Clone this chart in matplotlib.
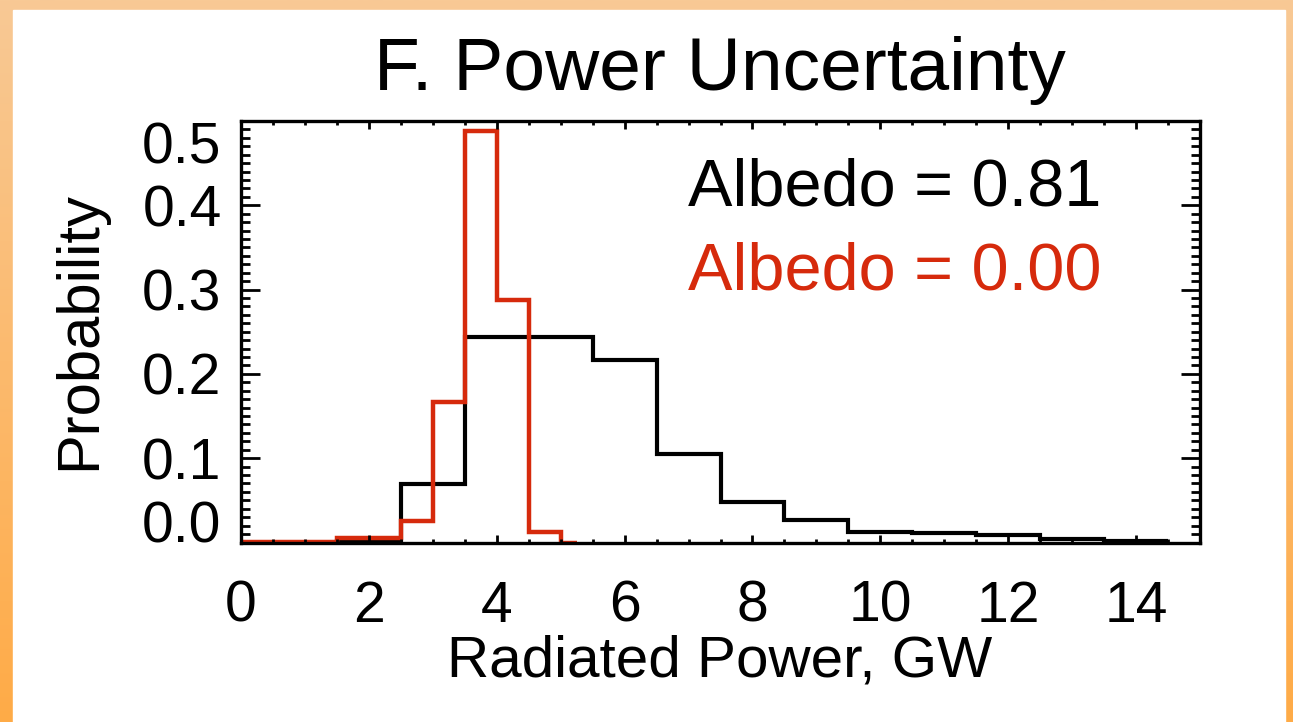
import numpy as np
import matplotlib
matplotlib.use("Agg")
import matplotlib.pyplot as plt
from matplotlib.patches import Rectangle
from matplotlib.colors import LinearSegmentedColormap

plt.rcParams['font.family'] = ['Liberation Sans', 'DejaVu Sans']

W, H = 1293, 722

# histogram of radiated power, albedo 0.81 (black)
black_edges = [0.0, 1.5, 2.5, 3.5, 4.5, 5.5, 6.5, 7.5, 8.5, 9.5, 10.5, 11.5, 12.5, 13.5, 14.5]
black_prob = [0.0, 0.002, 0.069, 0.244, 0.244, 0.216, 0.105, 0.048, 0.027,
              0.013, 0.011, 0.009, 0.004, 0.002]

# albedo 0.00 (red)
red_edges = [0.0, 1.5, 2.5, 3.0, 3.5, 4.0, 4.5, 5.0, 5.25]
red_prob = [0.001, 0.005, 0.025, 0.167, 0.488, 0.288, 0.012, 0.0]

x_ticks = [0, 2, 4, 6, 8, 10, 12, 14]
y_ticks = [0.0, 0.1, 0.2, 0.3, 0.4, 0.5]
y_tick_labels = ["0.0", "0.1", "0.2", "0.3", "0.4", "0.5"]

RED = "#d62a0c"


def fx(x):
    return x / W


def fy(y):
    return 1 - y / H


def main():
    fig = plt.figure(figsize=(W / 100, H / 100), dpi=100)

    # orange frame with white panel
    bg = fig.add_axes([0, 0, 1, 1])
    bg.set_axis_off()
    grad = np.linspace(0, 1, 256).reshape(-1, 1)
    cmap = LinearSegmentedColormap.from_list("frame", ["#f8c995", "#ffab47"])
    bg.imshow(grad, aspect="auto", cmap=cmap, extent=[0, 1, 0, 1])
    bg.add_patch(Rectangle((fx(13), 0), fx(1285) - fx(13), fy(10),
                           transform=bg.transAxes, color="white"))
    bg.set_xlim(0, 1)
    bg.set_ylim(0, 1)

    ax = fig.add_axes([fx(241), fy(542.5), fx(1200) - fx(241), fy(121) - fy(542.5)])
    ax.stairs(black_prob, black_edges, baseline=None, color="black", lw=3)
    ax.stairs(red_prob, red_edges, baseline=None, color=RED, lw=3.2)

    ax.set_xlim(0, 15)
    ax.set_ylim(0, 0.5)
    for s in ax.spines.values():
        s.set_linewidth(2.4)

    ax.set_xticks(x_ticks)
    ax.set_xticks(np.arange(0, 15.01, 0.5), minor=True)
    ax.set_yticks(y_ticks)
    ax.set_yticklabels(y_tick_labels)
    ax.set_yticks(np.arange(0, 0.501, 0.01), minor=True)

    ax.tick_params(which="both", direction="in", top=True, right=True, width=2)
    ax.tick_params(axis="x", which="major", length=6, pad=27, labelsize=41)
    ax.tick_params(axis="x", which="minor", length=3)
    ax.tick_params(axis="y", which="major", length=13.5, pad=14, labelsize=41)
    ax.tick_params(axis="y", which="minor", length=6.5)

    ylabs = ax.get_yticklabels()
    ylabs[0].set_va("baseline")
    ylabs[-1].set_va("top")

    fig.text(fx(720), fy(90), "F. Power Uncertainty", fontsize=54,
             ha="center", va="baseline")
    fig.text(fx(720), fy(677), "Radiated Power, GW", fontsize=42,
             ha="center", va="baseline")
    fig.text(fx(80), fy(331), "Probability", fontsize=43,
             ha="center", va="center", rotation=90)
    fig.text(fx(688), fy(205), "Albedo = 0.81", fontsize=48,
             ha="left", va="baseline", color="black")
    fig.text(fx(688), fy(290), "Albedo = 0.00", fontsize=48,
             ha="left", va="baseline", color=RED)

    fig.savefig("out.png", dpi=100)


if __name__ == "__main__":
    main()
